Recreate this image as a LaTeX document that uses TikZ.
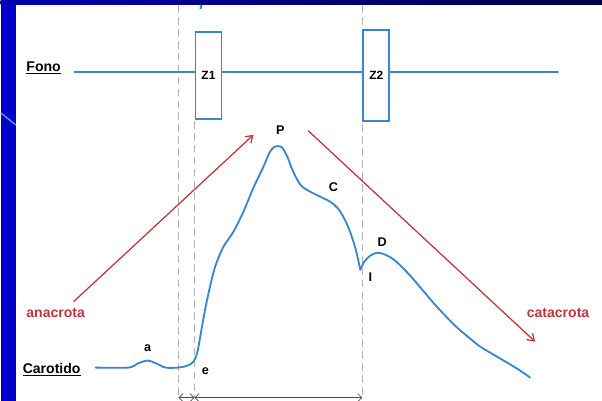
\documentclass[tikz,border=0pt]{standalone}
\usepackage{fontspec}
\setmainfont{Liberation Sans}
\usetikzlibrary{arrows.meta, positioning, calc}
\definecolor{cSlide}{RGB}{0,0,200}
\definecolor{cBar}{RGB}{0,0,70}
\definecolor{cDeco}{RGB}{90,150,255}
\definecolor{cWave}{RGB}{55,135,205}
\definecolor{cTrend}{RGB}{190,55,60}
\definecolor{cGuide}{RGB}{180,180,180}
\tikzset{
	lbl/.style  ={font=\fontsize{10}{12}\selectfont\bfseries, inner sep=1pt},
	tag/.style  ={font=\fontsize{9}{11}\selectfont\bfseries, inner sep=1pt},
	zone/.style ={rectangle, draw=cWave, line width=1.3pt, fill=white, inner sep=0pt, minimum width=0.65cm, font=\fontsize{8.5}{10}\selectfont\bfseries},
	wave/.style ={cWave, line width=1.3pt, line join=round, line cap=round},
	trend/.style={-{Straight Barb[length=1.6mm, width=2.2mm]}, cTrend, line width=0.9pt},
	% timing guides under the pulse
	guide/.style={cGuide, line width=0.9pt, dash pattern=on 5.5pt off 3pt},
	span/.style ={{Straight Barb[length=1mm]}-{Straight Barb[length=1mm]}, black!70, line width=0.5pt},
}
\begin{document}
\begin{tikzpicture}[x=0.025cm, y=-0.025cm]
					% slide background
					\fill[cSlide] (0,0) rectangle (602,401);
					\shade[left color=cSlide!80!cBar, right color=cBar] (0,0) rectangle (602,5);
					\fill[white] (15,5) rectangle (602,401);
					\draw[cDeco, line width=1pt] (0,113) -- (15,125);
					\draw[cWave, line width=1.5pt] (201,5) -- (200,9);
					\useasboundingbox (0,0) rectangle (602,401);
					% guides
					\coordinate (gTopL) at (178,5);
					\coordinate (gBotL) at (178,397);
					\coordinate (gTopM) at (194,121);
					\coordinate (gBotM) at (194,397);
					\coordinate (gTopR) at (362,5);
					\coordinate (gBotR) at (362,397);
					\draw[guide] (gTopL) -- (gBotL);
					\draw[guide] (gTopM) -- (gBotM);
					\draw[guide] (gTopR) -- (gBotR);
					\draw[span] ($(gBotL)+(0,1)$) -- ($(gBotM)+(0,1)$);
					\draw[span] ($(gBotM)+(0,1)$) -- ($(gBotR)+(0,1)$);
					% phonocardiogram
					\node[lbl] (fono) at (43,68) {\underline{Fono}};
					\coordinate (fonoL) at (74,72);
					\coordinate (fonoR) at (558,72);
					\draw[wave] (fonoL) -- (fonoR);
					\node[zone, minimum height=2.175cm] (z1) at (208,75.5) {Z1\hspace{2pt}};
					\node[zone, minimum height=2.275cm] (z2) at (376,75.5) {Z2\hspace{2pt}};
					% trends
					\node[lbl, text=cTrend] (ana) at (55,313) {anacrota};
					\node[lbl, text=cTrend] (cata) at (558,313) {catacrota};
					\coordinate (anaS) at (73,302);
					\coordinate (anaE) at (253,135);
					\coordinate (cataS) at (308,131);
					\coordinate (cataE) at (535,342);
					\draw[trend] (anaS) -- (anaE);
					\draw[trend] (cataS) -- (cataE);
					% carotid pulse
					\node[lbl] (carot) at (51,370) {\underline{Carotido}};
					\draw[wave] plot[smooth, tension=0.5] coordinates {(95,368) (128,368) (137,364) (147,361) (156,364) (165,368) (178,368) (187,366) (193,362) (197,352) (201,330) (205,308) (210,285) (215,266) (223,247) (233,232) (243,212) (253,188) (263,167) (269,153) (274,147) (281,147) (287,157) (292,170) (300,185) (310,192) (320,197) (330,202) (337,208) (343,217) (349,230) (355,248) (360,270)};
					\draw[wave] plot[smooth, tension=0.5] coordinates {(360,270) (364,262) (370,256) (377,253) (385,255) (395,261) (410,276) (422,290) (433,303) (445,316) (457,328) (470,339) (480,347) (495,356) (507,363) (520,371) (530,378)};
					\node[tag] (ptA) at (147,349) {a};
					\node[tag] (ptE) at (205,372) {e};
					\node[tag] (ptP) at (280,130) {P};
					\node[tag] (ptC) at (333,187) {C};
					\node[tag] (ptD) at (382,242) {D};
					\node[tag] (ptI) at (370,277) {I};
				\end{tikzpicture}
\end{document}
